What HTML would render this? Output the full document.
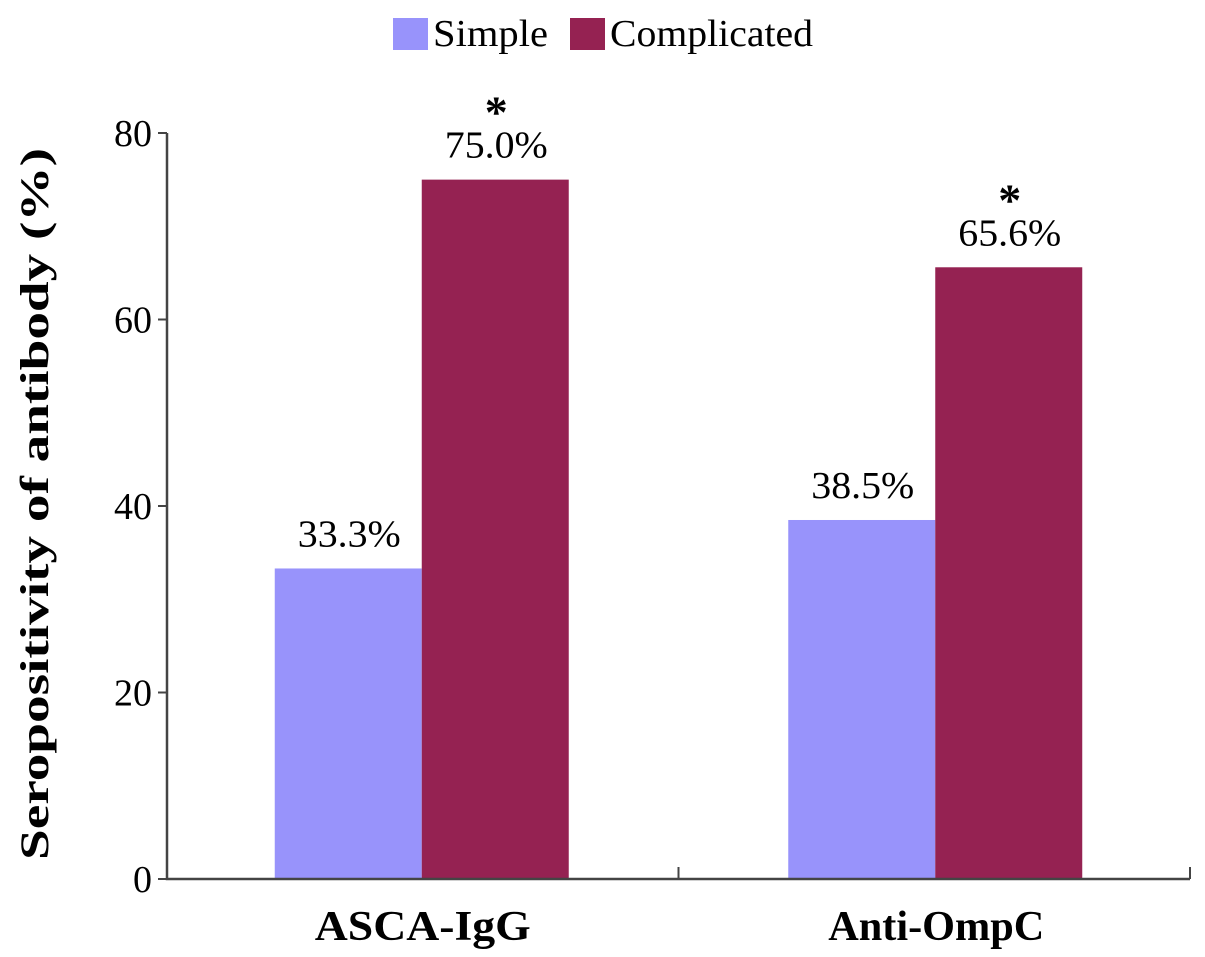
<!DOCTYPE html>
<html><head><meta charset="utf-8"><style>body{margin:0;background:#fff}svg{display:block}</style></head>
<body>
<svg width="1205" height="957" viewBox="0 0 1205 957" font-family="'Liberation Serif', serif">
<g>
<rect x="393" y="18" width="35" height="32" fill="#9893fb"/>
<text x="433" y="46" font-size="38" textLength="115" lengthAdjust="spacingAndGlyphs">Simple</text>
<rect x="570" y="18" width="35" height="32" fill="#952252"/>
<text x="610" y="46" font-size="38" textLength="203" lengthAdjust="spacingAndGlyphs">Complicated</text>
</g>
<g id="plot"></g>
<text transform="translate(48,504) rotate(-90)" text-anchor="middle" font-size="40" font-weight="bold" textLength="712" lengthAdjust="spacingAndGlyphs">Seropositivity of antibody (%)</text>
</svg>
<script>
const categories = ["ASCA-IgG", "Anti-OmpC"];
const simpleValues = [33.3, 38.5];
const complicatedValues = [75.0, 65.6];
const significant = [true, true];
const yTicks = [0, 20, 40, 60, 80];

const NS = "http://www.w3.org/2000/svg";
const g = document.getElementById('plot');
const x0 = 167, x1 = 1190, yBase = 879, yTop = 133, yMax = 80;
const y = v => yBase - (v / yMax) * (yBase - yTop);
const groupW = (x1 - x0) / categories.length;
const barW = 147;
function mk(tag, attrs, text) {
  const e = document.createElementNS(NS, tag);
  for (const k in attrs) e.setAttribute(k, attrs[k]);
  if (text !== undefined) e.textContent = text;
  g.appendChild(e);
  return e;
}
categories.forEach((c, i) => {
  const cx = x0 + groupW * (i + 0.5) - 1 + i * 2;
  const series = [[simpleValues[i], "#9893fb", "simple"], [complicatedValues[i], "#952252", "complicated"]];
  series.forEach((s, j) => {
    const bx = cx - barW + j * barW;
    const r = mk('rect', {x: bx, y: y(s[0]), width: barW, height: yBase - y(s[0]), fill: s[1]});
    
    
    const t = mk('text', {x: bx + barW / 2 + 1, y: y(s[0]) - 22, 'text-anchor': 'middle', 'font-size': 38, textLength: 103, lengthAdjust: 'spacingAndGlyphs'}, s[0].toFixed(1) + '%');
    
    
    if (j === 1 && significant[i]) {
      const a = mk('text', {x: bx + barW / 2 + 1, y: y(s[0]) - 52, 'text-anchor': 'middle', 'font-size': 46, 'font-weight': 'bold'}, '*');
      
      
    }
  });
  const cl = mk('text', {x: cx + 1, y: 940, 'text-anchor': 'middle', 'font-size': 42, 'font-weight': 'bold', textLength: 216, lengthAdjust: 'spacingAndGlyphs'}, c);
  
  
});
const ax = mk('path', {d: `M${x0},${yTop}V${yBase}H${x1}`, stroke: '#444', 'stroke-width': 2.5, fill: 'none'});


for (let i = 1; i <= categories.length; i++) {
  const tx = x0 + groupW * i;
  const tk = mk('line', {x1: tx, x2: tx, y1: yBase, y2: yBase - 12, stroke: '#444', 'stroke-width': 2});
  
  
}
yTicks.forEach(v => {
  const tk = mk('line', {x1: x0 - 9, x2: x0, y1: y(v), y2: y(v), stroke: '#444', 'stroke-width': 2});
  
  
  const tl = mk('text', {x: x0 - 15, y: y(v) + 13, 'text-anchor': 'end', 'font-size': 38}, v);
  
  
});
</script>
</body></html>
